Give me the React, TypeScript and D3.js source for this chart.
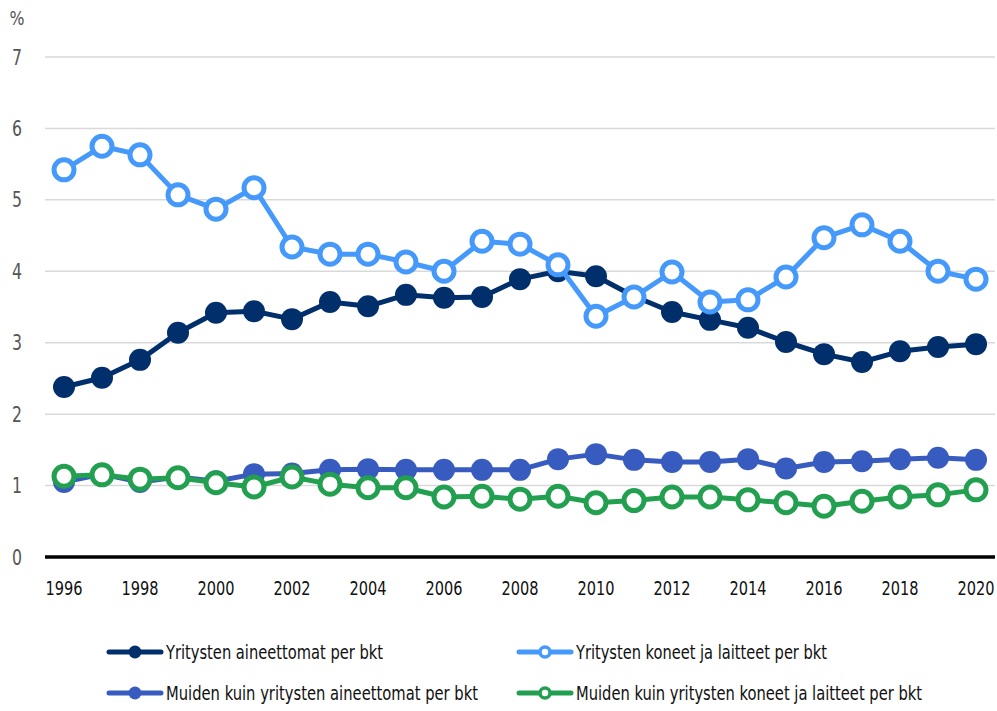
import React from 'react';
import * as d3 from 'd3';

const years = d3.range(1996, 2021).map(String);
const yTicks = [0, 1, 2, 3, 4, 5, 6, 7];

const yritystenAineettomat = [2.38, 2.51, 2.76, 3.14, 3.42, 3.44, 3.33, 3.57, 3.51, 3.67, 3.63, 3.64, 3.89, 4.0, 3.93, 3.65, 3.43, 3.32, 3.21, 3.01, 2.84, 2.73, 2.88, 2.94, 2.98];
const yritystenKoneet = [5.42, 5.75, 5.63, 5.07, 4.87, 5.17, 4.34, 4.24, 4.24, 4.13, 4.0, 4.42, 4.38, 4.09, 3.37, 3.64, 3.99, 3.57, 3.6, 3.92, 4.47, 4.65, 4.42, 4.0, 3.89];
const muidenAineettomat = [1.05, 1.16, 1.05, 1.12, 1.06, 1.16, 1.17, 1.22, 1.23, 1.22, 1.22, 1.22, 1.22, 1.37, 1.44, 1.36, 1.33, 1.33, 1.37, 1.24, 1.33, 1.34, 1.37, 1.39, 1.36];
const muidenKoneet = [1.13, 1.15, 1.09, 1.11, 1.04, 0.98, 1.12, 1.02, 0.97, 0.97, 0.84, 0.85, 0.81, 0.85, 0.76, 0.79, 0.84, 0.84, 0.8, 0.76, 0.71, 0.78, 0.84, 0.87, 0.94];

const series = [
  { name: 'Yritysten aineettomat per bkt', values: yritystenAineettomat, color: '#002f6c', open: false, w: 217 },
  { name: 'Yritysten koneet ja laitteet per bkt', values: yritystenKoneet, color: '#4599fb', open: true, w: 251 },
  { name: 'Muiden kuin yritysten aineettomat per bkt', values: muidenAineettomat, color: '#375bbf', open: false, w: 312 },
  { name: 'Muiden kuin yritysten koneet ja laitteet per bkt', values: muidenKoneet, color: '#22a050', open: true, w: 346 },
];

// draw order: bottom series first so greens sit on top like the original
const drawOrder = [2, 3, 0, 1];

const font = '"DejaVu Sans Condensed", "Liberation Sans Narrow", sans-serif';

export default function App() {
  const width = 997, height = 711;
  const margin = { left: 45, right: 2, top: 57, bottom: 154 };

  const x = d3.scaleBand().domain(years).range([margin.left, width - margin.right]);
  const y = d3.scaleLinear().domain([0, 7]).range([height - margin.bottom, margin.top]);
  const cx = (i: number) => (x(years[i]) as number) + x.bandwidth() / 2;

  const line = d3.line<number>().x((d, i) => cx(i)).y(d => y(d));

  const legendPos = [
    { x: 107, y: 652 },
    { x: 517, y: 652 },
    { x: 107, y: 693 },
    { x: 517, y: 693 },
  ];

  return (
    <svg width={width} height={height} style={{ position: 'absolute', left: 0, top: 0, fontFamily: font }}>
      <rect width={width} height={height} fill="#fff" />
      <text x={17} y={18} dy="0.35em" fontSize={20} fill="#555" textAnchor="middle" textLength={15} lengthAdjust="spacingAndGlyphs">%</text>
      {yTicks.map(t => (
        <g key={t}>
          {t > 0 && <line x1={margin.left} x2={width - margin.right} y1={y(t)} y2={y(t)} stroke="#d9d9d9" strokeWidth={1.5} />}
          <text x={17} y={y(t)} dy="0.36em" fontSize={21} fill="#555" textAnchor="middle" textLength={10} lengthAdjust="spacingAndGlyphs">{t}</text>
        </g>
      ))}
      <line x1={margin.left} x2={width - margin.right} y1={y(0)} y2={y(0)} stroke="#000" strokeWidth={3.5} />
      {years.filter((d, i) => i % 2 === 0).map(yr => (
        <text key={yr} x={(x(yr) as number) + x.bandwidth() / 2} y={595} fontSize={20} fill="#111" textAnchor="middle" textLength={37} lengthAdjust="spacingAndGlyphs">{yr}</text>
      ))}
      {drawOrder.map(si => {
        const s = series[si];
        return (
          <g key={s.name}>
            <path d={line(s.values) || ''} fill="none" stroke={s.color} strokeWidth={5} strokeLinejoin="round" />
            {s.values.map((v, i) => s.open
              ? <circle key={i} cx={cx(i)} cy={y(v)} r={10} fill="#fff" stroke={s.color} strokeWidth={5} />
              : <circle key={i} cx={cx(i)} cy={y(v)} r={11} fill={s.color} />)}
          </g>
        );
      })}
      {series.map((s, i) => {
        const p = legendPos[i];
        return (
          <g key={s.name} transform={`translate(${p.x},${p.y})`}>
            <line x1={2} x2={54} y1={0} y2={0} stroke={s.color} strokeWidth={5} strokeLinecap="round" />
            {s.open
              ? <circle cx={28} cy={0} r={5} fill="#fff" stroke={s.color} strokeWidth={3.5} />
              : <circle cx={28} cy={0} r={6.5} fill={s.color} />}
            <text x={59} y={0} dy="0.36em" fontSize={20} fill="#111" textLength={s.w} lengthAdjust="spacingAndGlyphs">{s.name}</text>
          </g>
        );
      })}
    </svg>
  );
}
